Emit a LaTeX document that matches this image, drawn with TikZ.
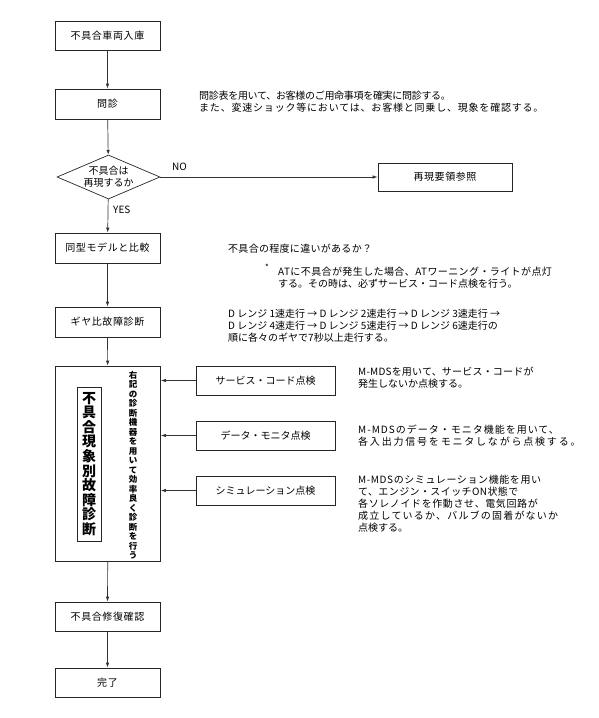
\documentclass[tikz,border=0pt]{standalone}
\usepackage{fontspec}
\setmainfont{Noto Sans CJK JP}
\usetikzlibrary{shapes.geometric,arrows.meta}
\newcommand{\espaco}[2]{{\addfontfeatures{LetterSpace=#1}#2}}
\newcommand{\juntas}{\lineskiplimit=-20pt\relax}
\begin{document}
\begin{tikzpicture}[
  x=1pt, y=-1pt,
  every node/.style={font=\fontsize{10}{12}\selectfont, inner sep=0pt},
  caixa/.style={draw=black!85, line width=0.7pt, minimum width=105pt, minimum height=29pt,
    font=\fontsize{10}{12}\selectfont\addfontfeatures{LetterSpace=6}},
  losango/.style={draw=black!85, line width=0.7pt, diamond, aspect=2.34, minimum width=103pt, minimum height=44pt},
  nota/.style={anchor=west, align=left, font=\fontsize{10}{12}\selectfont},
  seta/.style={draw=black!80, line width=0.7pt, -{Latex[length=5pt,width=3.5pt]}}
]
\tikzset{
  subcaixa/.style={caixa, minimum width=139pt, font=\fontsize{10}{12}\selectfont},
  vertical/.style={align=center, font=\bfseries\fontsize{14}{14.6}\selectfont\juntas},
  verticalpeq/.style={align=center, font=\bfseries\fontsize{8.5}{9.5}\selectfont\juntas}
}
\useasboundingbox (0,0) rectangle (598,718);

% coluna principal
\node[caixa] (inko) at (107.5,35.5) {不具合車両入庫};
\node[caixa, minimum height=30pt] (monshin) at (107.5,104) {問診};
\node[losango, align=center] (hantei) at (108.5,177) {不具合は\\再現するか};
\node[caixa, minimum width=134pt, minimum height=28pt] (saigen) at (445,177) {再現要領参照};
\node[caixa, minimum height=30pt] (dokei) at (107.5,248) {同型モデルと比較};
\node[caixa, minimum height=30pt] (gear) at (107.5,322) {ギヤ比故障診断};
\node[caixa, minimum height=195pt] (shindan) at (108,463.5) {};
\node[caixa] (fix) at (107.5,616.5) {不具合修復確認};
\node[caixa] (done) at (107.5,682.5) {完了};

% textos verticais
\node[vertical, draw=black!85, line width=0.7pt, minimum width=24pt, minimum height=154pt] (titulo) at (89,464)
  {不\\具\\合\\現\\象\\別\\故\\障\\診\\断};
\node[verticalpeq] (obs) at (133,465)
  {右\\記\\の\\診\\断\\機\\器\\を\\用\\い\\て\\効\\率\\良\\く\\診\\断\\を\\行\\う};

% ferramentas de diagnostico
\node[subcaixa] (code) at (265.5,380.5) {サービス・コード点検};
\node[subcaixa] (monitor) at (265.5,435.5) {データ・モニタ点検};
\node[subcaixa] (sim) at (265.5,490.5) {シミュレーション点検};

% setas
\draw[seta] (inko) -- (monshin);
\draw[seta] (monshin) -- (hantei);
\draw[seta] (hantei) -- (saigen);
\draw[seta] (hantei) -- (dokei);
\draw[seta] (dokei) -- (gear);
\draw[seta] (gear) -- (shindan);
\draw[seta] (shindan) -- (fix);
\draw[seta] (fix) -- (done);
\draw[seta] (code) -- (code -| shindan.east);
\draw[seta] (monitor) -- (monitor -| shindan.east);
\draw[seta] (sim) -- (sim -| shindan.east);

\node[anchor=west] (no) at (172,167) {NO};
\node[anchor=west] (yes) at (113,210) {YES};

% notas
\node[nota] (n1) at (199,102) {\espaco{-3}{問診表を用いて、お客様のご用命事項を確実に問診する。}\\\espaco{8}{また、変速ショック等においては、お客様と同乗し、現象を確認する。}};
\node[nota] (n2) at (228,249) {\espaco{3}{不具合の程度に違いがあるか？}};
\node (ast) at (267,267) {\fontsize{8}{8}\selectfont *};
\node[nota] (n3) at (278,278) {\espaco{4}{ATに不具合が発生した場合、ATワーニング・ライトが点灯}\\する。その時は、必ずサービス・コード点検を行う。};
\node[nota] (n4) at (228,326) {D レンジ 1速走行 → D レンジ 2速走行 → D レンジ 3速走行 →\\D レンジ 4速走行 → D レンジ 5速走行 → D レンジ 6速走行の\\順に各々のギヤで7秒以上走行する。};
\node[nota] (n5) at (358,378) {\espaco{2}{M-MDSを用いて、サービス・コードが}\\発生しないか点検する。};
\node[nota] (n6) at (358,436) {\espaco{10}{M-MDSのデータ・モニタ機能を用いて、}\\\espaco{18}{各入出力信号をモニタしながら点検する。}};
\node[nota] (n7) at (358,504) {\espaco{6}{M-MDSのシミュレーション機能を用い}\\\espaco{4}{て、エンジン・スイッチON状態で}\\\espaco{6}{各ソレノイドを作動させ、電気回路が}\\\espaco{12}{成立しているか、バルブの固着がないか}\\点検する。};
\end{tikzpicture}
\end{document}
